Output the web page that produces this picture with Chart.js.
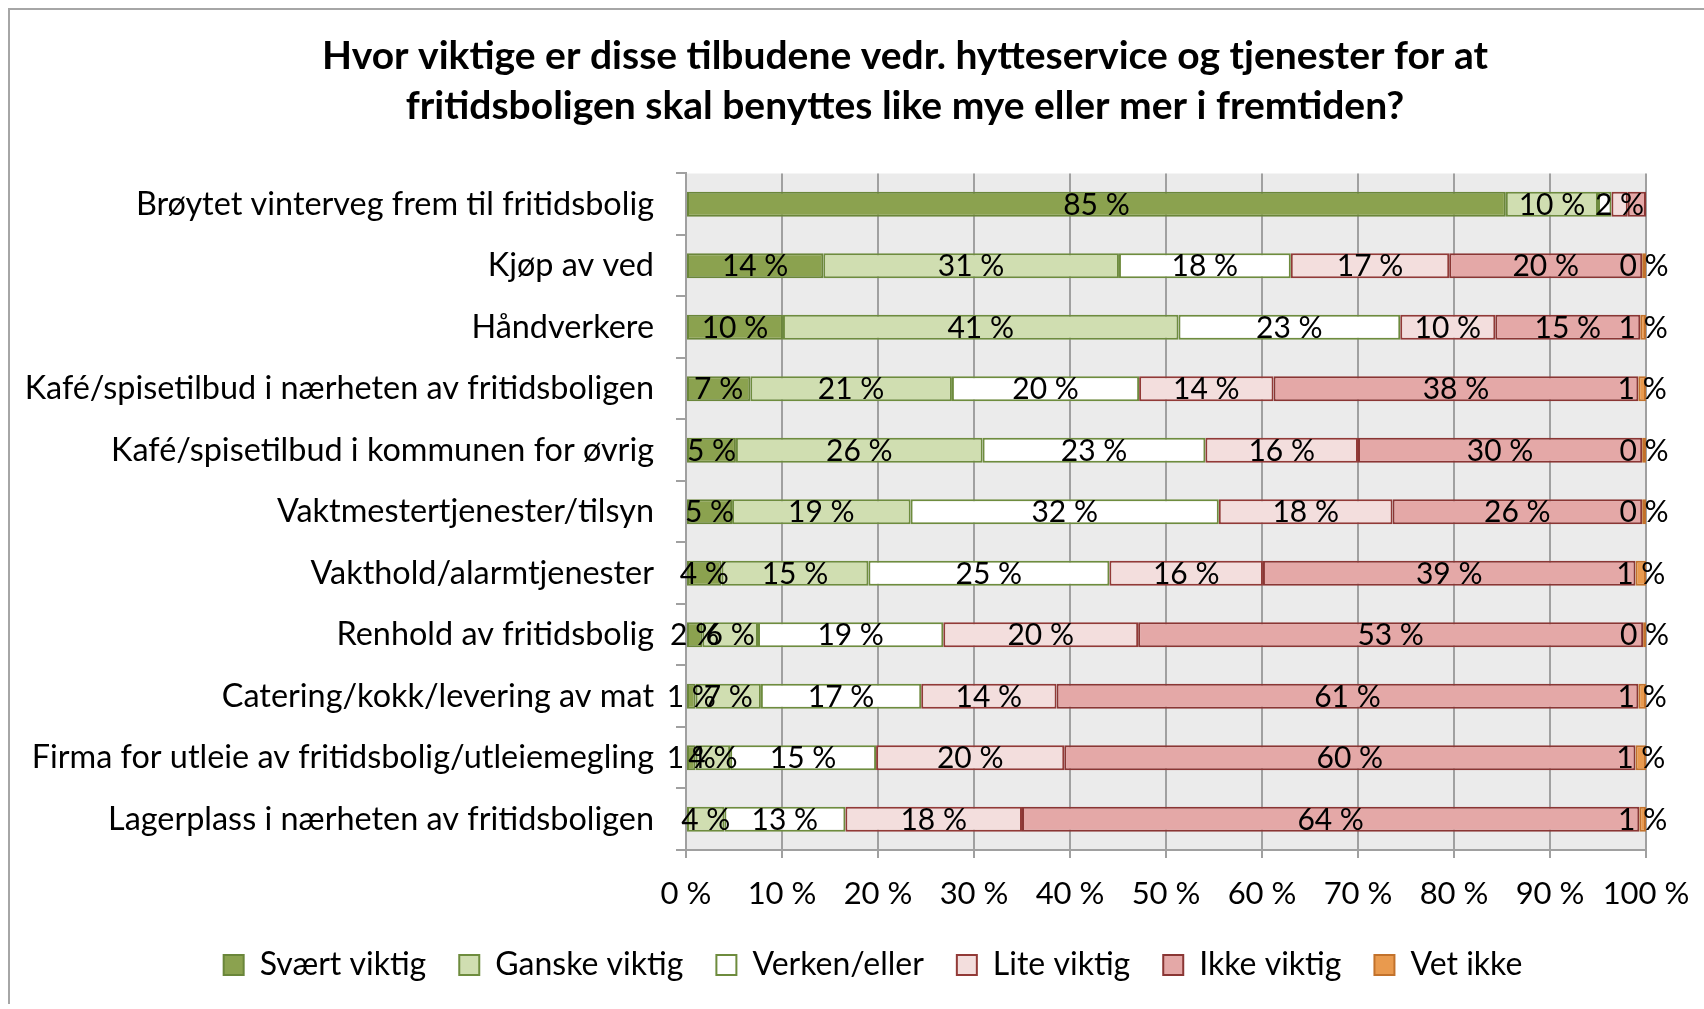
<!DOCTYPE html>
<html>
<head>
<meta charset="utf-8">
<script src="https://cdn.jsdelivr.net/npm/chart.js@4.4.1/dist/chart.umd.min.js"></script>
<style>
  html, body { margin: 0; padding: 0; background: #fff; }
  canvas { display: block; }
</style>
</head>
<body>
<canvas id="chart" width="1704" height="1009"></canvas>
<script>
const categories = [
  'Brøytet vinterveg frem til fritidsbolig',
  'Kjøp av ved',
  'Håndverkere',
  'Kafé/spisetilbud i nærheten av fritidsboligen',
  'Kafé/spisetilbud i kommunen for øvrig',
  'Vaktmestertjenester/tilsyn',
  'Vakthold/alarmtjenester',
  'Renhold av fritidsbolig',
  'Catering/kokk/levering av mat',
  'Firma for utleie av fritidsbolig/utleiemegling',
  'Lagerplass i nærheten av fritidsboligen'
];

const seriesNames = ['Svært viktig', 'Ganske viktig', 'Verken/eller', 'Lite viktig', 'Ikke viktig', 'Vet ikke'];

const svaertViktig = [85.4, 14.3, 10.1, 6.7, 5.2, 4.8, 3.7, 1.7, 1.0, 1.0, null];
const ganskeViktig = [9.6, 30.8, 41.2, 21.0, 25.7, 18.6, 15.3, 5.8, 6.8, 3.6, 4.0];
const verkenEller  = [1.4, 17.9, 23.1, 19.5, 23.2, 32.1, 25.1, 19.3, 16.7, 15.2, 12.6];
const liteViktig   = [1.7, 16.5, 9.9, 14.0, 15.9, 18.1, 16.0, 20.3, 14.1, 19.6, 18.4];
const ikkeViktig   = [1.9, 20.1, 15.1, 38.0, 29.6, 26.0, 38.8, 52.6, 60.6, 59.5, 64.3];
const vetIkke      = [null, 0.4, 0.6, 0.8, 0.4, 0.4, 1.1, 0.3, 0.8, 1.1, 0.7];

const xTicks = [0, 10, 20, 30, 40, 50, 60, 70, 80, 90, 100];

// labels Excel left out on the first bar (they sit under the "2 %")
const skipLabels = [[0, 2], [0, 4]];

const fill   = ['#8BA24F', '#D0DEB1', '#FFFFFF', '#F3DEDD', '#E4A8A7', '#E99A4E'];
const stroke = ['#6A863A', '#6E8C3E', '#6E8C3E', '#923A37', '#8A3634', '#C2722C'];

const FONT = 'Lato, "Open Sans", sans-serif';

const plotBackground = {
  id: 'plotBackground',
  afterLayout(chart) {
    // title and legend are not centred on the canvas in the original
    chart.titleBlock.left += 82;
    chart.titleBlock.right += 82;
    chart.legend.left += 50;
    chart.legend.right += 50;
  },
  beforeDraw(chart) {
    const {ctx, chartArea: a} = chart;
    ctx.save();
    // outer frame
    ctx.strokeStyle = '#A6A6A6';
    ctx.lineWidth = 2;
    ctx.beginPath();
    ctx.moveTo(9, 1004);
    ctx.lineTo(9, 9);
    ctx.lineTo(1704, 9);
    ctx.stroke();
    ctx.fillStyle = '#EBEBEB';
    ctx.fillRect(a.left, a.top, a.right - a.left, a.bottom - a.top);
    ctx.restore();
  }
};

const barLabels = {
  id: 'barLabels',
  afterDatasetsDraw(chart) {
    const {ctx} = chart;
    ctx.save();
    ctx.font = '30px ' + FONT;
    ctx.fillStyle = '#000';
    ctx.textAlign = 'center';
    ctx.textBaseline = 'middle';
    chart.data.datasets.forEach((ds, di) => {
      chart.getDatasetMeta(di).data.forEach((bar, i) => {
        const v = ds.data[i];
        if (v == null) return;
        if (skipLabels.some(s => s[0] === i && s[1] === di)) return;
        const cx = (bar.x + bar.base) / 2;
        ctx.fillText(Math.round(v) + ' %', cx, bar.y + 1);
      });
    });
    ctx.restore();
  }
};

const allSeries = [svaertViktig, ganskeViktig, verkenEller, liteViktig, ikkeViktig, vetIkke];

new Chart(document.getElementById('chart'), {
  type: 'bar',
  data: {
    labels: categories,
    datasets: allSeries.map((d, i) => ({
      label: seriesNames[i],
      data: d,
      backgroundColor: fill[i],
      borderColor: stroke[i],
      borderWidth: 2,
      borderSkipped: false,
      barPercentage: 0.82,
      categoryPercentage: 0.5
    }))
  },
  options: {
    indexAxis: 'y',
    responsive: false,
    animation: false,
    layout: { padding: { left: 0, right: 58, top: 0, bottom: 18 } },
    plugins: {
      title: {
        display: true,
        text: ['Hvor viktige er disse tilbudene vedr. hytteservice og tjenester for at',
               'fritidsboligen skal benyttes like mye eller mer i fremtiden?'],
        color: '#000',
        font: { family: FONT, size: 39, weight: 'bold', lineHeight: 1.282 },
        padding: { top: 31.5, bottom: 42 }
      },
      legend: {
        position: 'bottom',
        labels: {
          boxWidth: 20,
          boxHeight: 20,
          padding: 33,
          color: '#000',
          font: { family: FONT, size: 32 }
        }
      },
      tooltip: { enabled: false }
    },
    scales: {
      x: {
        stacked: true,
        min: 0,
        max: 100,
        afterBuildTicks: s => { s.ticks = xTicks.map(v => ({value: v})); },
        afterFit: s => { s.height = 66; s.paddingLeft = 0; s.paddingRight = 0; },
        ticks: {
          callback: v => v + ' %',
          color: '#000',
          padding: 17,
          maxRotation: 0,
          font: { family: FONT, size: 31 }
        },
        grid: { color: '#A0A0A0', lineWidth: 2, tickLength: 8 },
        border: { color: '#A0A0A0', width: 2 }
      },
      y: {
        stacked: true,
        afterFit: s => { s.width = 686; },
        ticks: {
          color: '#000',
          padding: 22,
          font: { family: FONT, size: 32.4 }
        },
        grid: { drawOnChartArea: false, offset: true, color: '#A0A0A0', lineWidth: 2, tickLength: 10 },
        border: { color: '#A0A0A0', width: 2 }
      }
    }
  },
  plugins: [plotBackground, barLabels]
});
</script>
</body>
</html>
